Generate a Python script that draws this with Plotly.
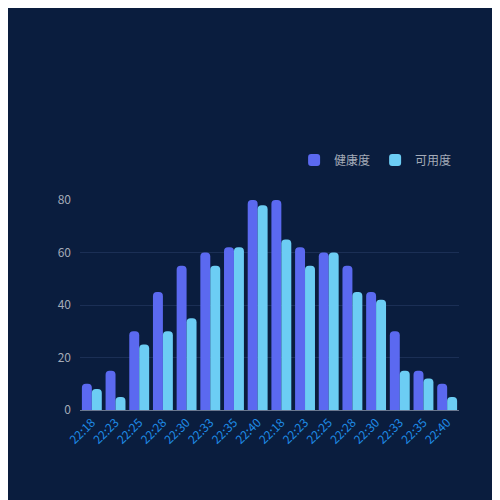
import plotly.graph_objects as go

# Data
times = ['22:18', '22:23', '22:25', '22:28', '22:30', '22:33', '22:35', '22:40',
         '22:18', '22:23', '22:25', '22:28', '22:30', '22:33', '22:35', '22:40']
health = [10, 15, 30, 45, 55, 60, 62, 80, 80, 62, 60, 55, 45, 30, 15, 10]
avail = [8, 5, 25, 30, 35, 55, 62, 78, 65, 55, 60, 45, 42, 15, 12, 5]
y_ticks = [0, 20, 40, 60, 80]

# duplicate labels on the category axis -> use index positions
idx = list(range(len(times)))

BG = '#0a1d3e'
FONT = 'Noto Sans CJK SC, Noto Sans, sans-serif'

fig = go.Figure()
fig.add_trace(go.Bar(x=idx, y=health, name='健康度', marker=dict(color='#5b69f0', line_width=0)))
fig.add_trace(go.Bar(x=idx, y=avail, name='可用度', marker=dict(color='#6ccdf4', line_width=0)))

# page has an 8px body margin, so the figure is 492 wide/high
# margins picked so the plot area sits where the reference has it
SIZE = 492
L, R, T, B = 72, 41, 192, 90
H = SIZE - T - B

fig.update_layout(
    width=SIZE, height=SIZE,
    margin=dict(l=L, r=R, t=T, b=B),
    paper_bgcolor=BG,
    plot_bgcolor=BG,
    barmode='group',
    bargap=0.16,
    bargroupgap=0,
    barcornerradius='50%',
    font=dict(family=FONT, size=12, color='#a4abb8'),
    legend=dict(orientation='h', x=0.995, xanchor='right', y=(402 - 152) / H, yanchor='middle',
                font=dict(size=12, color='#a4abb8'), itemwidth=30, bgcolor='rgba(0,0,0,0)'),
)
fig.update_xaxes(
    tickmode='array', tickvals=idx, ticktext=times, tickangle=-45,
    tickfont=dict(color='#1f8ce6', size=12, family=FONT),
    range=[-0.5, len(idx) - 0.5],
    showgrid=False, showline=True, linecolor='#6b7890', linewidth=1,
    ticks='', zeroline=False,
)
fig.update_yaxes(
    range=[0, 80], tickvals=y_ticks,
    tickfont=dict(color='#a4abb8', size=12, family=FONT),
    showgrid=True, gridcolor='#1b2f55', gridwidth=1,
    zeroline=False, showline=False, ticks='', ticklabelstandoff=8,
)

fig.write_html('out.html')
